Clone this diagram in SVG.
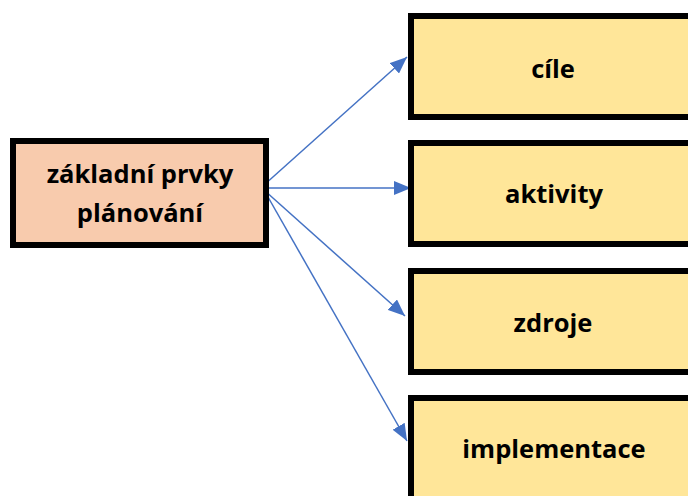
<svg xmlns="http://www.w3.org/2000/svg" width="688" height="496" viewBox="0 0 688 496">
  <style>
    .box { stroke: #000; stroke-width: 6; }
    .src { fill: #F8CBAD; }
    .dst { fill: #FFE699; }
    .lbl { font-family: "Open Sans", "Liberation Sans", sans-serif; font-weight: bold; font-size: 25.5px; fill: #000; text-anchor: middle; }
    .edge { stroke: #4472C4; stroke-width: 1.5; fill: none; marker-end: url(#arrow); }
  </style>
  <defs>
    <marker id="arrow" markerUnits="userSpaceOnUse" markerWidth="18" markerHeight="14" refX="17" refY="7" orient="auto">
      <path d="M0,0 L17,7 L0,14 Z" fill="#4472C4"/>
    </marker>
  </defs>
  <rect width="688" height="496" fill="#fff"/>

  <g id="edges">
    <line class="edge" x1="264" y1="185" x2="407" y2="57"/>
    <line class="edge" x1="264" y1="188" x2="411" y2="188"/>
    <line class="edge" x1="264" y1="190" x2="405" y2="316"/>
    <line class="edge" x1="264" y1="190" x2="407" y2="441"/>
  </g>

  <g id="node-zakladni">
    <rect class="box src" x="13" y="141" width="253" height="104"/>
    <text class="lbl" x="140" y="183">základní prvky</text>
    <text class="lbl" x="140" y="222">plánování</text>
  </g>

  <g id="node-cile">
    <rect class="box dst" x="411" y="16" width="290" height="101"/>
    <text class="lbl" x="553" y="78">cíle</text>
  </g>

  <g id="node-aktivity">
    <rect class="box dst" x="411" y="143" width="290" height="101"/>
    <text class="lbl" x="554" y="203">aktivity</text>
  </g>

  <g id="node-zdroje">
    <rect class="box dst" x="411" y="271" width="290" height="101"/>
    <text class="lbl" x="553" y="332">zdroje</text>
  </g>

  <g id="node-implementace">
    <rect class="box dst" x="411" y="398" width="290" height="101"/>
    <text class="lbl" x="554" y="458">implementace</text>
  </g>
</svg>
